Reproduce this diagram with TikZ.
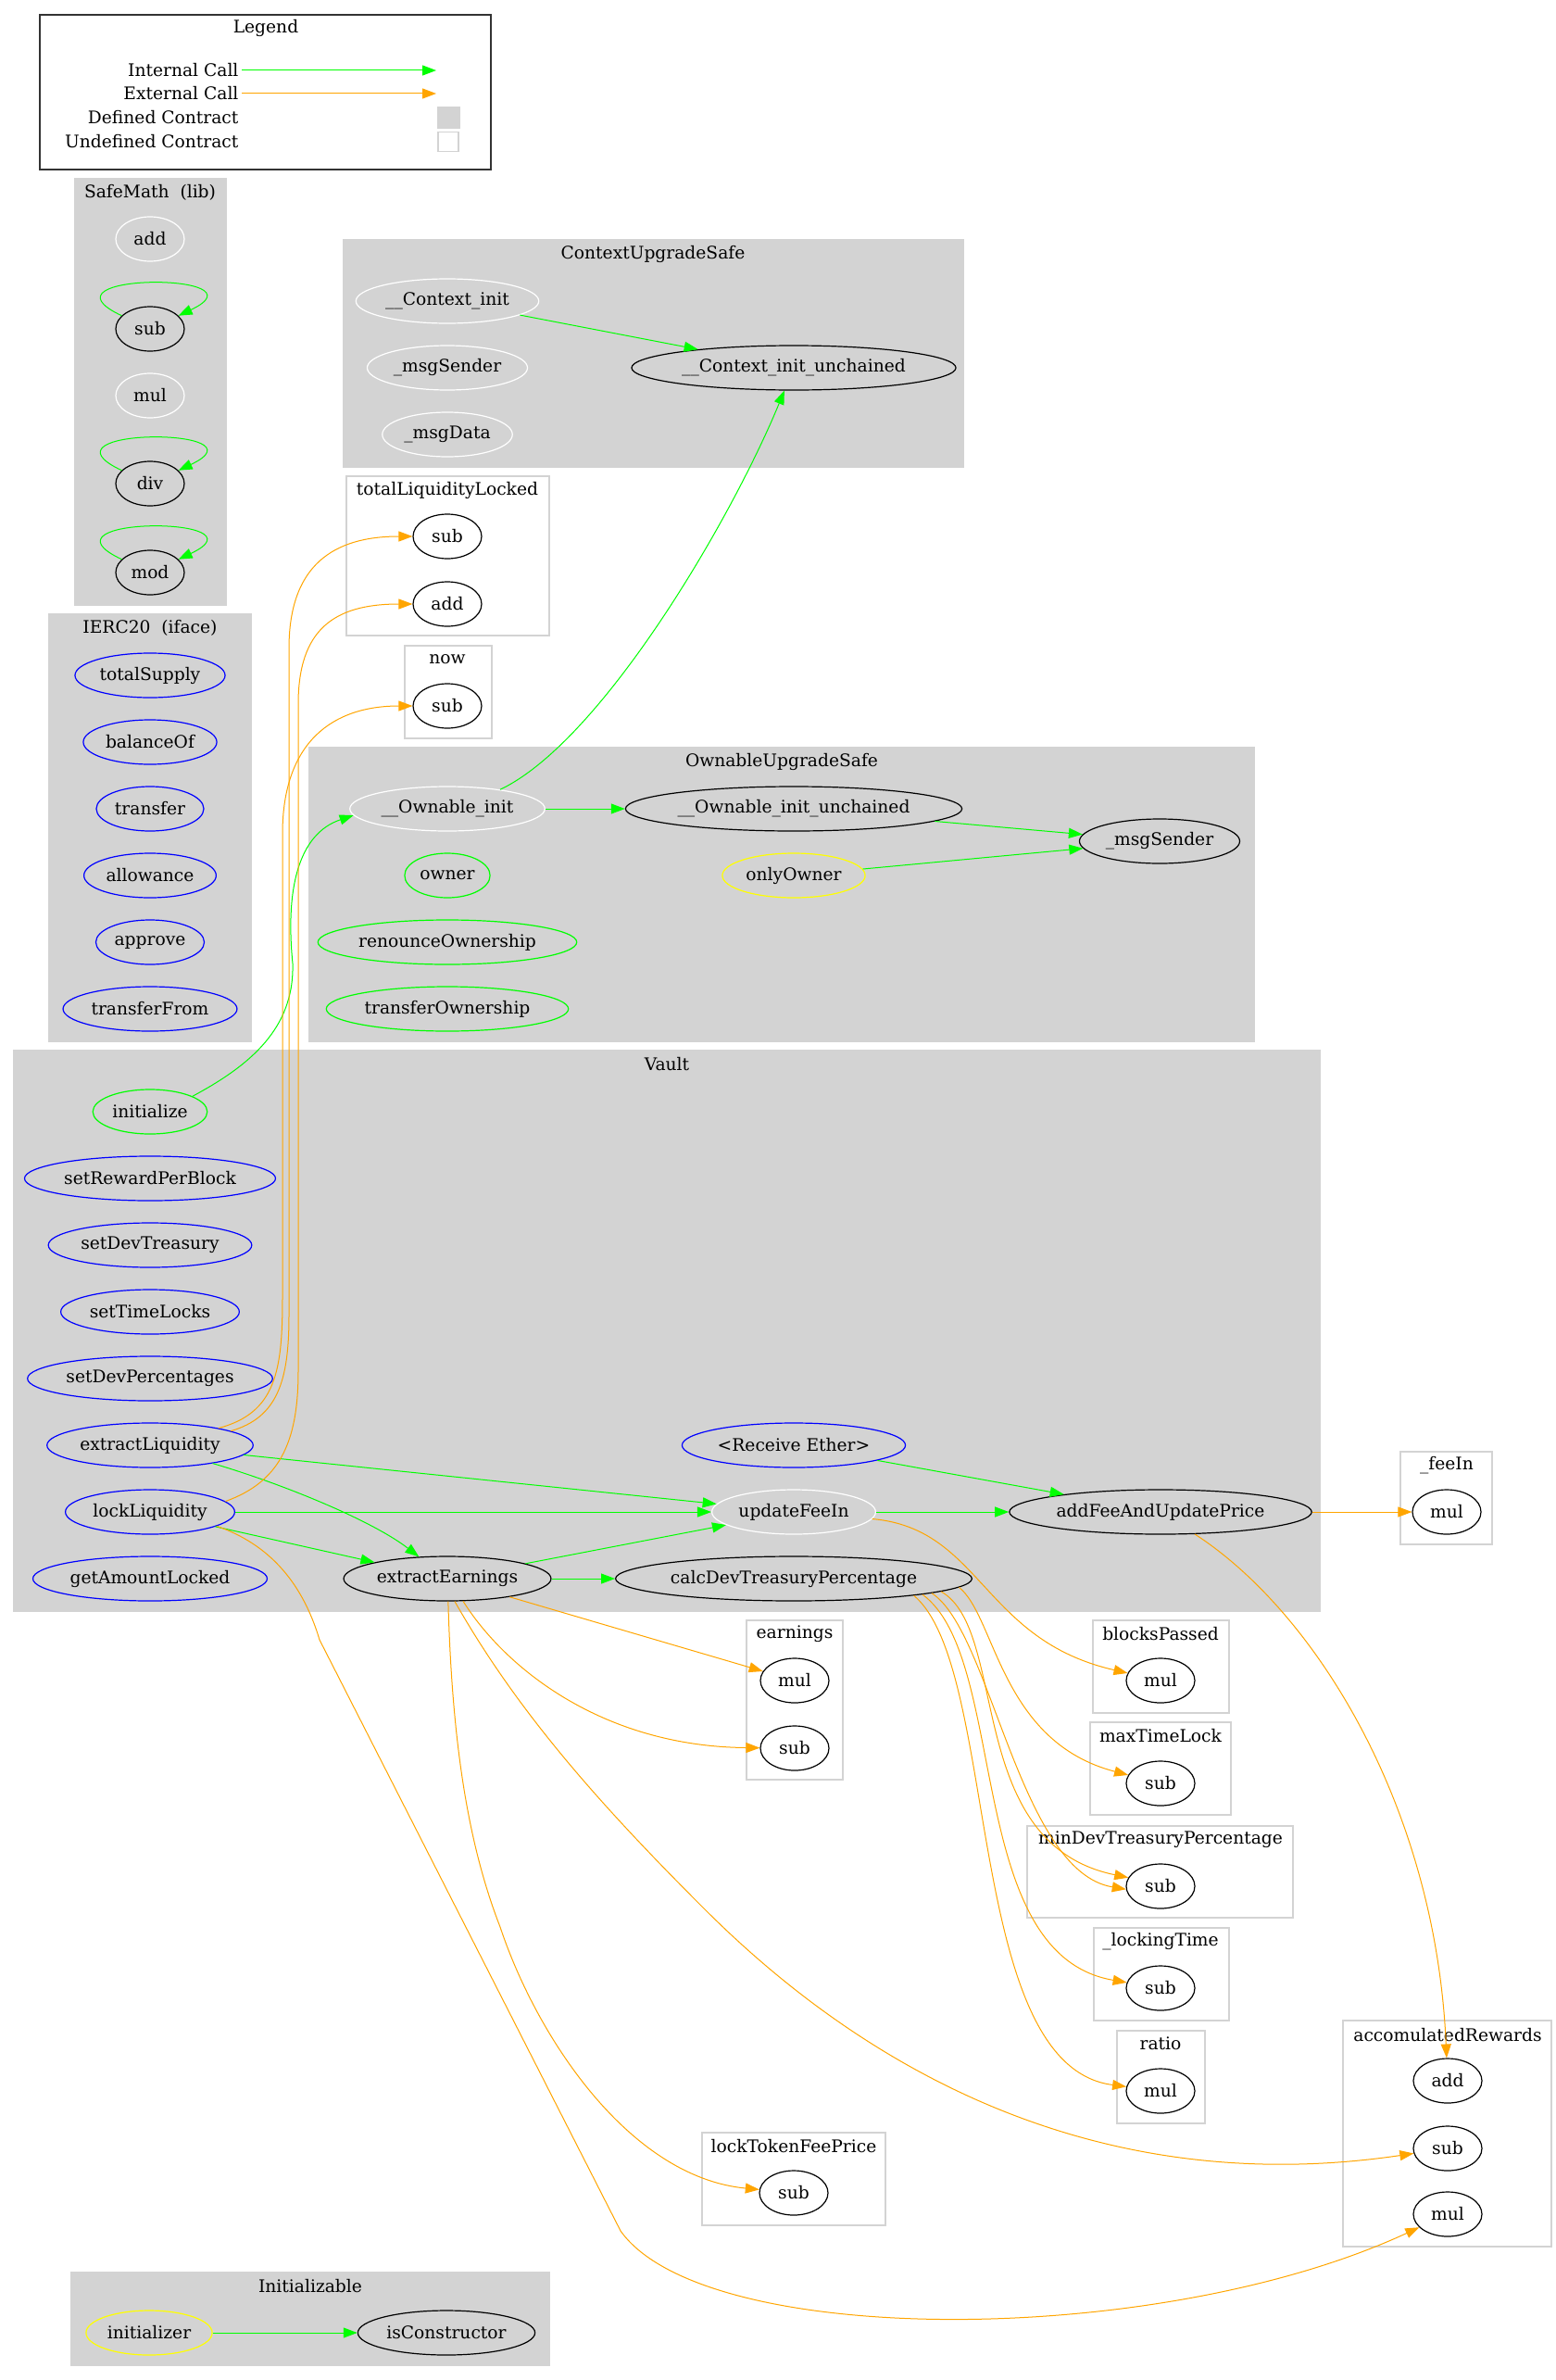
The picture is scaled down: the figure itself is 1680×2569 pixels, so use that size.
\documentclass[tikz,border=0pt]{standalone}
\usepackage{fontspec}
\setmainfont{DejaVu Serif}
\usetikzlibrary{shapes.geometric, arrows.meta}
\definecolor{clgray}{HTML}{D3D3D3}
\definecolor{cGreen}{HTML}{00FF00}
\definecolor{cOrange}{HTML}{FFA500}
\definecolor{cBlue}{HTML}{0000FF}
\definecolor{cYellow}{HTML}{FFFF00}

\begin{document}
\begin{tikzpicture}[x=1pt, y=-1pt,
  font=\fontsize{18.67}{22}\selectfont,
  fn/.style={ellipse, draw=black, line width=1.2pt, minimum width=74pt,
    minimum height=48pt, inner xsep=3pt, inner ysep=0pt},
  fnWhite/.style={fn, draw=white},
  fnBlue/.style={fn, draw=cBlue},
  fnGreen/.style={fn, draw=cGreen},
  fnYellow/.style={fn, draw=cYellow},
  defcluster/.style={fill=clgray, draw=clgray, line width=1.2pt},
  undefcluster/.style={fill=white, draw=clgray, line width=1.2pt},
  icall/.style={draw=cGreen, line width=1pt, -{Triangle[length=15pt, width=11pt]}},
  ecall/.style={draw=cOrange, line width=1pt, -{Triangle[length=15pt, width=11pt]}}]
\useasboundingbox (0,0) rectangle (1680,2569);

% Legend
\draw[line width=1.2pt, black!80] (43,16) rectangle (530,183);
\node (lgTitle) at (287,30) {Legend};
\node[anchor=east] (lgInt) at (261,76) {Internal Call};
\node[anchor=east] (lgExt) at (261,101) {External Call};
\node[anchor=east] (lgDef) at (261,127) {Defined Contract};
\node[anchor=east] (lgUndef) at (261,153) {Undefined Contract};
\coordinate (lgIntEnd) at (471,76);
\coordinate (lgExtEnd) at (471,101);
\node[fill=clgray, minimum width=25pt, minimum height=24pt, inner sep=0pt] (lgDefBox) at (484,127) {};
\node[draw=clgray, line width=1.2pt, minimum width=22pt, minimum height=21pt, inner sep=0pt] (lgUndefBox) at (484,153) {};
\draw[icall] (lgInt) -- (lgIntEnd);
\draw[ecall] (lgExt) -- (lgExtEnd);

% Contract clusters
\path[defcluster] (81,193) rectangle (244,653);
\path[defcluster] (53,663) rectangle (271,1124);
\path[defcluster] (371,259) rectangle (1040,504);
\path[defcluster] (334,807) rectangle (1354,1124);
\path[defcluster] (15,1134) rectangle (1425,1739);
\path[defcluster] (77,2453) rectangle (593,2553);

% Undefined contracts
\path[undefcluster] (374,514) rectangle (593,686);
\path[undefcluster] (437,697) rectangle (531,797);
\path[undefcluster] (1512,1567) rectangle (1611,1667);
\path[undefcluster] (806,1749) rectangle (910,1921);
\path[undefcluster] (1180,1749) rectangle (1327,1849);
\path[undefcluster] (1177,1859) rectangle (1329,1959);
\path[undefcluster] (1109,1971) rectangle (1396,2070);
\path[undefcluster] (1181,2081) rectangle (1327,2181);
\path[undefcluster] (1206,2192) rectangle (1301,2292);
\path[undefcluster] (758,2302) rectangle (956,2402);
\path[undefcluster] (1450,2181) rectangle (1675,2425);

% SafeMath
\node (lblSafeMath) at (162,208) {SafeMath\ \ (lib)};
\node[fnWhite] (smAdd) at (162,258) {add};
\node[fn] (smSub) at (162,355) {sub};
\node[fnWhite] (smMul) at (162,427) {mul};
\node[fn] (smDiv) at (162,522) {div};
\node[fn] (smMod) at (162,618) {mod};

% IERC20
\node (lblIERC) at (162,678) {IERC20\ \ (iface)};
\node[fnBlue] (ercSupply) at (162,729) {totalSupply};
\node[fnBlue] (ercBalance) at (162,801) {balanceOf};
\node[fnBlue] (ercTransfer) at (162,873) {transfer};
\node[fnBlue] (ercAllowance) at (162,945) {allowance};
\node[fnBlue] (ercApprove) at (162,1017) {approve};
\node[fnBlue] (ercTransferFrom) at (162,1089) {transferFrom};

% ContextUpgradeSafe
\node (lblContext) at (705,274) {ContextUpgradeSafe};
\node[fnWhite] (ctxInit) at (483,325) {\_\_Context\_init};
\node[fnWhite] (ctxSender) at (483,397) {\_msgSender};
\node[fnWhite] (ctxData) at (483,469) {\_msgData};
\node[fn] (ctxUnch) at (857,397) {\_\_Context\_init\_unchained};

% totalLiquidityLocked, now
\node (lblTll) at (483,529) {totalLiquidityLocked};
\node[fn] (tllSub) at (483,579) {sub};
\node[fn] (tllAdd) at (483,652) {add};
\node (lblNow) at (483,712) {now};
\node[fn] (nowSub) at (483,762) {sub};

% OwnableUpgradeSafe
\node (lblOwnable) at (844,822) {OwnableUpgradeSafe};
\node[fnWhite] (owInit) at (483,873) {\_\_Ownable\_init};
\node[fn] (owUnch) at (857,873) {\_\_Ownable\_init\_unchained};
\node[fn] (owSender) at (1252,908) {\_msgSender};
\node[fnGreen] (owOwner) at (483,945) {owner};
\node[fnYellow] (owOnly) at (857,945) {onlyOwner};
\node[fnGreen] (owRenounce) at (483,1017) {renounceOwnership};
\node[fnGreen] (owTransfer) at (483,1089) {transferOwnership};

% Vault
\node (lblVault) at (720,1149) {Vault};
\node[fnGreen] (vInitialize) at (162,1200) {initialize};
\node[fnBlue] (vSetReward) at (162,1272) {setRewardPerBlock};
\node[fnBlue] (vSetTreasury) at (162,1344) {setDevTreasury};
\node[fnBlue] (vSetLocks) at (162,1416) {setTimeLocks};
\node[fnBlue] (vSetPercent) at (162,1488) {setDevPercentages};
\node[fnBlue] (vExtractLiq) at (162,1560) {extractLiquidity};
\node[fnBlue] (vLockLiq) at (162,1632) {lockLiquidity};
\node[fnBlue] (vAmountLocked) at (162,1704) {getAmountLocked};
\node[fnBlue] (vReceive) at (857,1560) {<Receive Ether>};
\node[fnWhite] (vUpdateFee) at (857,1632) {updateFeeIn};
\node[fn] (vAddFee) at (1253,1632) {addFeeAndUpdatePrice};
\node[fn] (vEarnings) at (483,1704) {extractEarnings};
\node[fn] (vCalcDev) at (857,1704) {calcDevTreasuryPercentage};

% external members
\node (lblFeeIn) at (1562,1582) {\_feeIn};
\node[fn] (feeMul) at (1562,1632) {mul};
\node (lblEarn) at (858,1764) {earnings};
\node[fn] (earnMul) at (858,1814) {mul};
\node[fn] (earnSub) at (858,1887) {sub};
\node (lblBlocks) at (1253,1764) {blocksPassed};
\node[fn] (bpMul) at (1253,1814) {mul};
\node (lblMaxLock) at (1253,1874) {maxTimeLock};
\node[fn] (mtlSub) at (1253,1925) {sub};
\node (lblMinDev) at (1253,1986) {minDevTreasuryPercentage};
\node[fn] (mdtSub) at (1253,2036) {sub};
\node (lblLockTime) at (1253,2096) {\_lockingTime};
\node[fn] (ltSub) at (1253,2146) {sub};
\node (lblRatio) at (1253,2206) {ratio};
\node[fn] (ratioMul) at (1253,2257) {mul};
\node (lblFeePrice) at (857,2317) {lockTokenFeePrice};
\node[fn] (ltfSub) at (857,2367) {sub};
\node (lblRewards) at (1563,2197) {accomulatedRewards};
\node[fn] (arAdd) at (1563,2246) {add};
\node[fn] (arSub) at (1563,2319) {sub};
\node[fn] (arMul) at (1563,2390) {mul};

% Initializable
\node (lblInit) at (335,2468) {Initializable};
\node[fnYellow] (inInitializer) at (161,2518) {initializer};
\node[fn] (inConstructor) at (482,2518) {isConstructor};

% Internal calls
\draw[icall] (smSub.155) .. controls +(-100,-47) and +(100,-47) .. (smSub.25);
\draw[icall] (smDiv.155) .. controls +(-100,-47) and +(100,-47) .. (smDiv.25);
\draw[icall] (smMod.155) .. controls +(-100,-47) and +(100,-47) .. (smMod.25);
\draw[icall] (ctxInit) -- (ctxUnch);
\draw[icall] (owInit.20) .. controls (650,800) and (790,560) .. (ctxUnch);
\draw[icall] (owInit) -- (owUnch);
\draw[icall] (owUnch) -- (owSender);
\draw[icall] (owOnly) -- (owSender);
\draw[icall] (vInitialize.20) .. controls (270,1150) and (318,1110) .. (316,1040)
  .. controls (308,960) and (322,900) .. (owInit.184);
\draw[icall] (vExtractLiq) -- (vUpdateFee);
\draw[icall] (vExtractLiq) .. controls (300,1600) and (400,1640) .. (vEarnings);
\draw[icall] (vLockLiq) -- (vUpdateFee);
\draw[icall] (vLockLiq) -- (vEarnings);
\draw[icall] (vEarnings) -- (vUpdateFee);
\draw[icall] (vEarnings) -- (vCalcDev);
\draw[icall] (vReceive) -- (vAddFee);
\draw[icall] (vUpdateFee) -- (vAddFee);
\draw[icall] (inInitializer) -- (inConstructor);

% External calls
\draw[ecall] (vExtractLiq.10) .. controls (300,1530) and (312,1490) .. (312,1420)
  -- (312,700) .. controls (312,610) and (360,579) .. (tllSub);
\draw[ecall] (vExtractLiq.14) .. controls (298,1525) and (305,1480) .. (305,1400)
  -- (305,900) .. controls (305,800) and (360,762) .. (nowSub);
\draw[ecall] (vLockLiq.8) .. controls (300,1600) and (322,1560) .. (322,1480)
  -- (322,760) .. controls (322,680) and (360,652) .. (tllAdd);
\draw[ecall] (vLockLiq.-12) .. controls (300,1670) and (330,1720) .. (345,1770)
  -- (670,2408) .. controls (760,2535) and (1250,2535) .. (arMul);
\draw[ecall] (vEarnings) -- (earnMul);
\draw[ecall] (vEarnings.-55) .. controls (545,1800) and (650,1885) .. (earnSub);
\draw[ecall] (vEarnings.-88) .. controls (488,1880) and (505,1990) .. (540,2080)
  .. controls (580,2200) and (680,2350) .. (ltfSub);
\draw[ecall] (vEarnings.-72) .. controls (560,1850) and (650,1950) .. (760,2060)
  .. controls (900,2200) and (1150,2380) .. (arSub);
\draw[ecall] (vUpdateFee) .. controls (1060,1650) and (1060,1770) .. (bpMul);
\draw[ecall] (vAddFee) -- (feeMul);
\draw[ecall] (vAddFee) .. controls (1420,1740) and (1550,1950) .. (arAdd);
\draw[ecall] (vCalcDev.-3) .. controls (1075,1745) and (1080,1880) .. (mtlSub);
\draw[ecall] (vCalcDev.-5) .. controls (1090,1760) and (1040,1990) .. (mdtSub.165);
\draw[ecall] (vCalcDev.-6) .. controls (1070,1760) and (1100,2020) .. (mdtSub.185);
\draw[ecall] (vCalcDev.-7) .. controls (1090,1790) and (1040,2110) .. (ltSub);
\draw[ecall] (vCalcDev.-8) .. controls (1080,1800) and (1040,2230) .. (ratioMul);
\end{tikzpicture}
\end{document}
